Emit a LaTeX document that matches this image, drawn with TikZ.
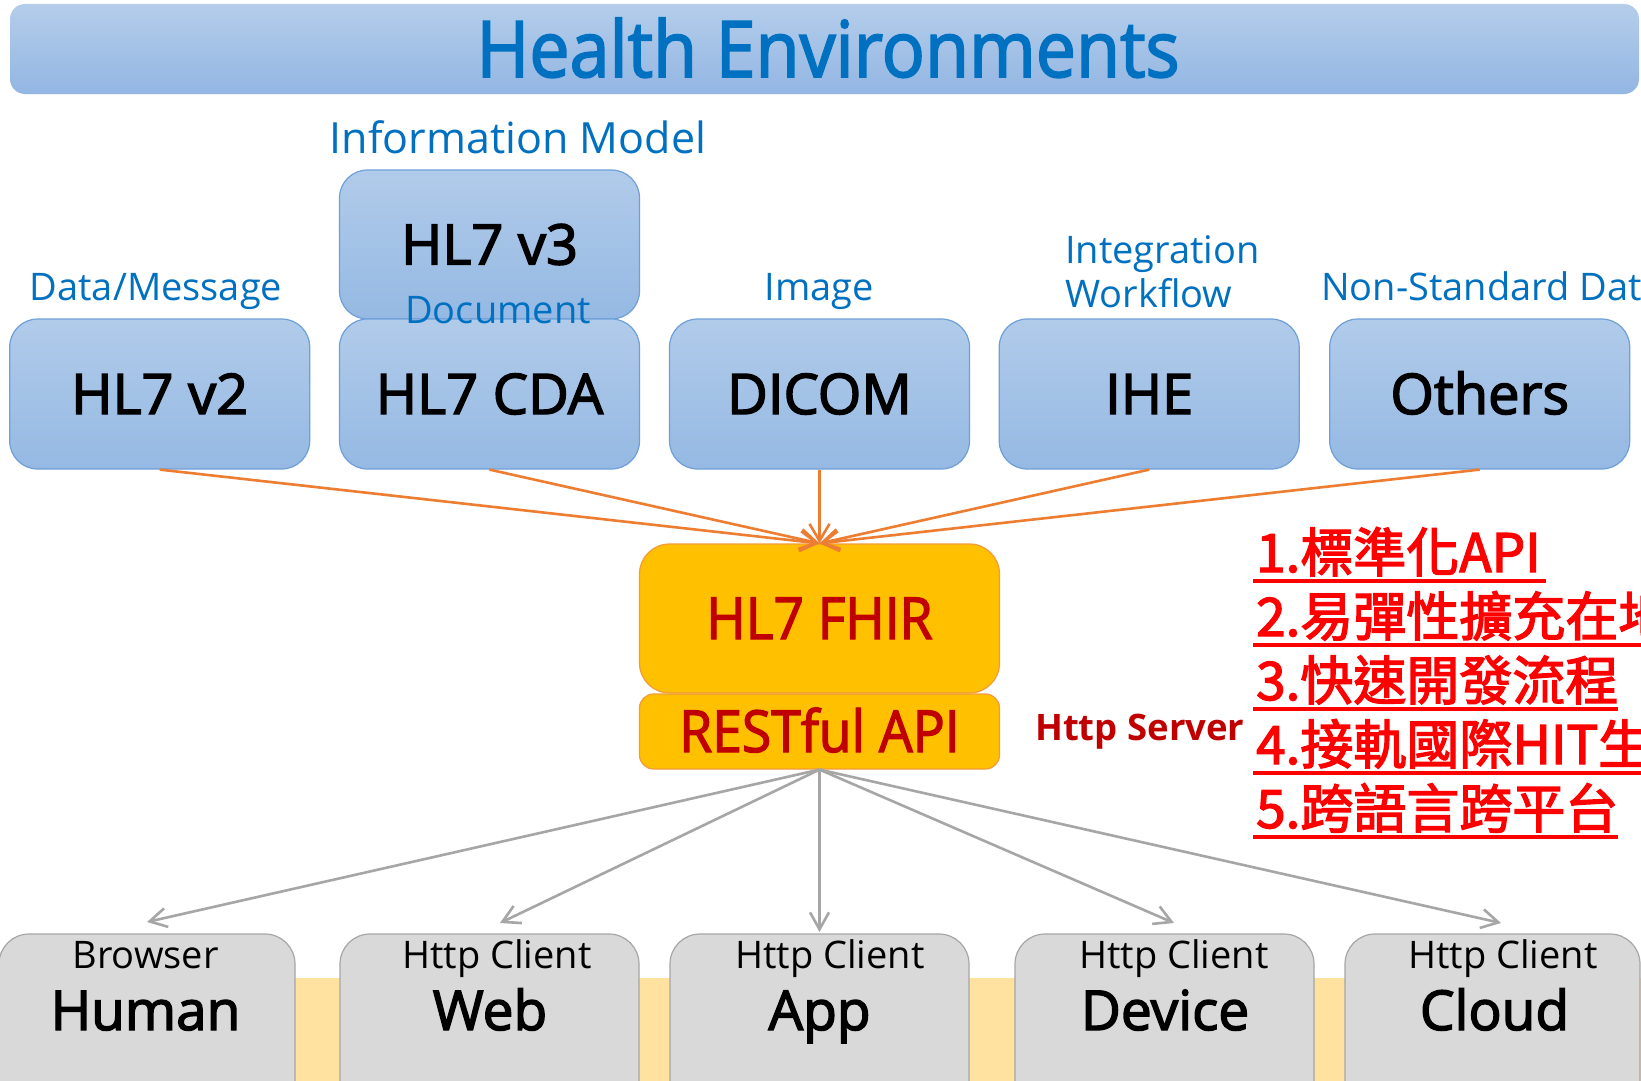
\documentclass[tikz,border=0pt]{standalone}
\usepackage{fontspec}
\setmainfont{Open Sans}
\newfontfamily\narrowfont{Open Sans}[FakeStretch=0.92]
\newfontfamily\semifont{Open Sans}[FakeBold=2.6]
\newfontfamily\narrowsemifont{Open Sans}[FakeStretch=0.92,FakeBold=2.2]
\newfontfamily\cjkfont{Noto Sans CJK TC}[FakeBold=2.6]
\usetikzlibrary{arrows.meta}
\definecolor{titleblue}{HTML}{0070C0}
\definecolor{darkred}{HTML}{C00000}
\definecolor{boxtop}{HTML}{B1CBEA}
\definecolor{boxbot}{HTML}{95B9E3}
\definecolor{boxline}{HTML}{6F9FD8}
\definecolor{bartop}{HTML}{B4CDEA}
\definecolor{barbot}{HTML}{93B6E3}
\definecolor{fhirfill}{HTML}{FFC000}
\definecolor{fhirline}{HTML}{F29B38}
\definecolor{arrorange}{HTML}{ED7D31}
\definecolor{arrgray}{HTML}{A6A6A6}
\definecolor{grayfill}{HTML}{D9D9D9}
\definecolor{grayline}{HTML}{A6A6A6}
\definecolor{peach}{HTML}{FFE29F}
\definecolor{listred}{HTML}{FF0000}
\tikzset{
  bluebox/.style={draw=boxline, line width=1.2pt, rounded corners=28pt, top color=boxtop, bottom color=boxbot,
    minimum width=300pt, minimum height=150pt, inner sep=0pt, font=\semifont\fontsize{56}{60}\selectfont,
    text height=40pt, text depth=0pt},
  bluelabel/.style={text=titleblue, inner sep=0pt, font=\fontsize{38}{44}\selectfont},
  fhirbox/.style={fill=fhirfill, draw=fhirline, line width=1.2pt, minimum width=360pt, inner sep=0pt,
    text=darkred, font=\narrowsemifont\fontsize{58}{64}\selectfont, text height=41pt, text depth=0pt},
  graybox/.style={draw=grayline, line width=1.2pt, fill=grayfill, rounded corners=30pt,
    minimum height=200pt, inner sep=0pt},
  smalltxt/.style={anchor=base, inner sep=0pt, font=\fontsize{38}{44}\selectfont},
  bigtxt/.style={anchor=base, inner sep=0pt, font=\semifont\fontsize{55}{60}\selectfont},
  listitem/.style={anchor=base west, inner sep=0pt, text=listred, font=\cjkfont\fontsize{53}{60}\selectfont},
  listline/.style={draw=listred, line width=3.2pt},
  oarr/.style={draw=arrorange, line width=2.6pt, -{Straight Barb[length=17pt,width=20pt]}},
  garr/.style={draw=arrgray, line width=2.6pt, -{Straight Barb[length=17pt,width=19pt]}}
}
\begin{document}
\begin{tikzpicture}[x=1pt,y=-1pt]
\useasboundingbox (0,0) rectangle (1641,1081);
\clip (0,0) rectangle (1641,1081);
\fill[white] (0,0) rectangle (1641,1081);

% title bar
\node[rounded corners=15pt, top color=bartop, bottom color=barbot, minimum width=1629pt, minimum height=90pt, inner sep=0pt] (titlebar) at (824.5,49) {};
\node[anchor=base, text=titleblue, inner sep=0pt, font=\narrowsemifont\fontsize{78}{90}\selectfont] (title) at (828,77) {Health Environments};

% labels
\node[bluelabel, anchor=base, font=\fontsize{43}{50}\selectfont] (lim) at (518,153) {Information Model};
\node[bluelabel, anchor=base] (ldata) at (156,300) {Data/Message};
\node[bluelabel, anchor=base] (limg) at (819.5,300) {Image};
\node[bluelabel, anchor=base west] (lint) at (1065,263) {Integration};
\node[bluelabel, anchor=base west] (lwf) at (1065,307) {Workflow};
\node[bluelabel, anchor=base west] (lns) at (1321,300) {Non-Standard Data};

% blue boxes
\node[bluebox, minimum height=149pt] (v3) at (489.5,244.5) {HL7 v3};
\node[bluebox] (v2) at (159.7,394) {HL7 v2};
\node[bluebox] (cda) at (489.5,394) {HL7 CDA};
\node[bluebox] (dicom) at (819.5,394) {DICOM};
\node[bluebox] (ihe) at (1149.2,394) {IHE};
\node[bluebox] (oth) at (1479.7,394) {Others};
\node[bluelabel, anchor=base] (ldoc) at (498,323) {Document};

% FHIR
\node[fhirbox, minimum height=149pt, rounded corners=30pt] (fhir) at (819.5,618.5) {HL7 FHIR};
\node[fhirbox, minimum height=75pt, rounded corners=14pt] (rest) at (819.5,731.5) {RESTful API};
\node[anchor=base west, inner sep=0pt, text=darkred, font=\bfseries\fontsize{36.5}{44}\selectfont] (srv) at (1035,740) {Http Server};

% red list
\node[listitem] (i1) at (1256,572) {1.標準化API};
\node[listitem] (i2) at (1256,636) {2.易彈性擴充在地};
\node[listitem] (i3) at (1256,700) {3.快速開發流程};
\node[listitem] (i4) at (1256,764) {4.接軌國際HIT生};
\node[listitem] (i5) at (1256,828) {5.跨語言跨平台};
\draw[listline] (1253,581) -- (1546,581);
\draw[listline] (1253,645) -- (1641,645);
\draw[listline] (1253,709) -- (1618,709);
\draw[listline] (1253,773) -- (1641,773);
\draw[listline] (1253,837) -- (1618,837);

% bottom strip and clients
\fill[peach] (0,978) rectangle (1641,1081);
\node[graybox, minimum width=296pt] (human) at (147,1034) {};
\node[graybox, minimum width=299pt] (web) at (489.5,1034) {};
\node[graybox, minimum width=299pt] (app) at (819.5,1034) {};
\node[graybox, minimum width=299pt] (device) at (1164.5,1034) {};
\node[graybox, minimum width=295pt] (cloud) at (1492.5,1034) {};
\node[smalltxt] (s1) at (145.5,968) {Browser};
\node[bigtxt] (b1) at (145.5,1030) {Human};
\node[smalltxt] (s2) at (497,968) {Http Client};
\node[bigtxt] (b2) at (490,1030) {Web};
\node[smalltxt] (s3) at (830,968) {Http Client};
\node[bigtxt] (b3) at (819.5,1030) {App};
\node[smalltxt] (s4) at (1174,968) {Http Client};
\node[bigtxt] (b4) at (1165,1030) {Device};
\node[smalltxt] (s5) at (1503,968) {Http Client};
\node[bigtxt] (b5) at (1494.5,1030) {Cloud};

% arrows in
\draw[oarr] (v2.south) -- (fhir.north);
\draw[oarr] (cda.south) -- (fhir.north);
\draw[oarr] (dicom.south) -- (fhir.north);
\draw[oarr] (ihe.south) -- (fhir.north);
\draw[oarr] (oth.south) -- (fhir.north);

% arrows out
\coordinate (g1) at (147,922);
\coordinate (g2) at (500,923);
\coordinate (g3) at (819.5,932);
\coordinate (g4) at (1174,923);
\coordinate (g5) at (1501,923);
\draw[garr] (rest.south) -- (g1);
\draw[garr] (rest.south) -- (g2);
\draw[garr] (rest.south) -- (g3);
\draw[garr] (rest.south) -- (g4);
\draw[garr] (rest.south) -- (g5);
\end{tikzpicture}
\end{document}
